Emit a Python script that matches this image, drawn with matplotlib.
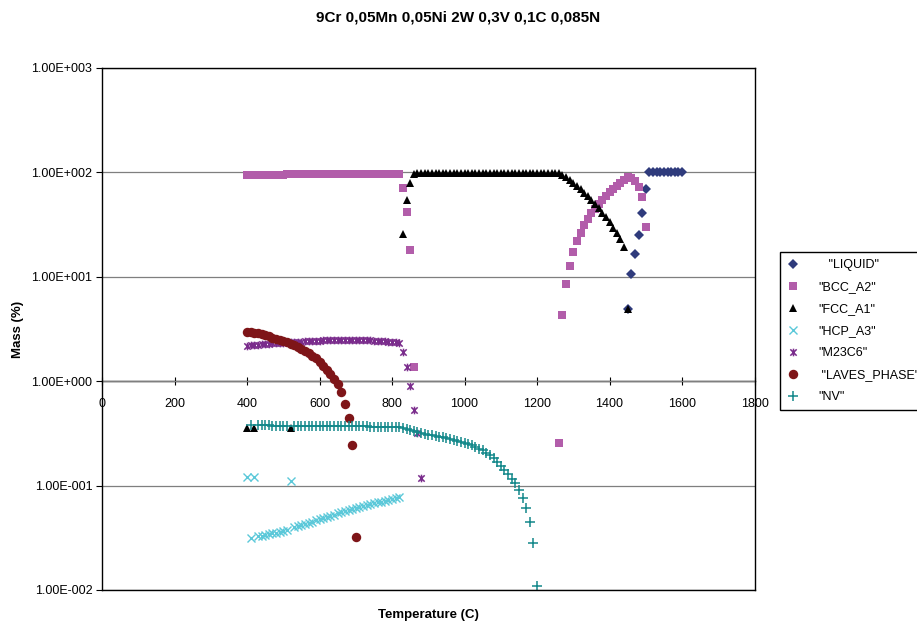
import math
import matplotlib
matplotlib.use("Agg")
import matplotlib.pyplot as plt
from matplotlib.path import Path
from matplotlib.ticker import FixedLocator, FuncFormatter, NullLocator

plt.rcParams['font.family'] = ['Liberation Sans', 'DejaVu Sans']

# ---------------- data ----------------
liquid_T = [1450, 1460, 1470, 1480, 1490, 1500, 1510, 1520, 1530, 1540, 1550,
            1560, 1570, 1580, 1590, 1600]
liquid_V = [4.9, 10.6, 16.5, 25.3, 40.8, 69.3, 100, 100, 100, 100, 100,
            100, 100, 100, 100, 100]

bcc_T = [400, 410, 420, 430, 440, 450, 460, 470, 480, 490, 500, 510, 520, 530,
         540, 550, 560, 570, 580, 590, 600, 610, 620, 630, 640, 650, 660, 670,
         680, 690, 700, 710, 720, 730, 740, 750, 760, 770, 780, 790, 800, 810,
         820, 830, 840, 850, 860,
         1260, 1270, 1280, 1290, 1300, 1310, 1320, 1330, 1340, 1350, 1360, 1370,
         1380, 1390, 1400, 1410, 1420, 1430, 1440, 1450, 1460, 1470, 1480, 1490,
         1500]
bcc_V = [94.4, 94.5, 94.6, 94.7, 94.8, 94.9, 95.0, 95.1, 95.2, 95.3, 95.4, 95.5,
         95.6, 95.7, 95.8, 95.9, 96.0, 96.1, 96.2, 96.3, 96.4, 96.5, 96.6, 96.7,
         96.8, 96.9, 96.9, 97.0, 97.0, 97.1, 97.1, 97.1, 97.1, 97.2, 97.2, 97.2,
         97.2, 97.2, 97.2, 97.2, 97.3, 97.3, 97.3,
         71.0, 42.0, 18.0, 1.38,
         0.254, 4.3, 8.5, 12.8, 17.3, 21.9, 26.5, 31.1, 36.0, 40.6, 44.9, 49.4,
         54.4, 59.5, 64.4, 69.8, 74.6, 78.7, 84.6, 91.0, 88.0, 82.0, 73.0, 58.0,
         30.0]

fcc_T = [400, 420, 520, 830, 840, 850,
         860, 870, 880, 890, 900, 910, 920, 930, 940, 950, 960, 970, 980, 990,
         1000, 1010, 1020, 1030, 1040, 1050, 1060, 1070, 1080, 1090, 1100, 1110,
         1120, 1130, 1140, 1150, 1160, 1170, 1180, 1190, 1200, 1210, 1220, 1230,
         1240, 1250, 1260,
         1270, 1280, 1290, 1300, 1310, 1320, 1330, 1340, 1350, 1360, 1370, 1380,
         1390, 1400, 1410, 1420, 1430, 1440, 1450]
fcc_V = [0.355, 0.355, 0.355, 25.7, 54.5, 79.6,
         97.5, 98.3, 98.8, 99.0, 99.1, 99.1, 99.2, 99.2, 99.2, 99.3, 99.3, 99.3,
         99.3, 99.3, 99.4, 99.4, 99.4, 99.4, 99.4, 99.5, 99.5, 99.5, 99.5, 99.5,
         99.5, 99.5, 99.5, 99.5, 99.5, 99.5, 99.5, 99.5, 99.5, 99.5, 99.5, 99.5,
         99.5, 99.5, 99.4, 99.3, 99.0,
         94.4, 89.7, 84.6, 79.6, 74.1, 68.8, 64.0, 59.5, 54.4, 49.8, 45.3, 41.1,
         37.2, 33.3, 29.5, 26.1, 23.0, 19.4, 4.9]

hcp_T = [400, 420, 520,
         410, 430, 440, 450, 460, 470, 480, 490, 500, 510, 530, 540, 550, 560,
         570, 580, 590, 600, 610, 620, 630, 640, 650, 660, 670, 680, 690, 700,
         710, 720, 730, 740, 750, 760, 770, 780, 790, 800, 810, 820]
hcp_V = [0.122, 0.120, 0.111,
         0.0315, 0.0328, 0.0332, 0.0336, 0.0342, 0.0349, 0.0355, 0.0361, 0.0367,
         0.0375, 0.0400, 0.0410, 0.0422, 0.0432, 0.0442, 0.0452, 0.0465, 0.0478,
         0.0490, 0.0500, 0.0511, 0.0528, 0.0545, 0.0563, 0.0575, 0.0587, 0.0600,
         0.0612, 0.0625, 0.0637, 0.0650, 0.0665, 0.0678, 0.0690, 0.0702, 0.0715,
         0.0728, 0.0740, 0.0755, 0.0772]

m23_T = [400, 410, 420, 430, 440, 450, 460, 470, 480, 490, 500, 510, 520, 530,
         540, 550, 560, 570, 580, 590, 600, 610, 620, 630, 640, 650, 660, 670,
         680, 690, 700, 710, 720, 730, 740, 750, 760, 770, 780, 790, 800, 810,
         820, 830, 840, 850, 860, 870, 880]
m23_V = [2.19, 2.20, 2.22, 2.24, 2.26, 2.27, 2.29, 2.30, 2.32, 2.33, 2.34, 2.35,
         2.37, 2.38, 2.39, 2.40, 2.41, 2.42, 2.43, 2.44, 2.45, 2.46, 2.47, 2.48,
         2.48, 2.49, 2.49, 2.49, 2.49, 2.49, 2.49, 2.48, 2.48, 2.47, 2.46, 2.45,
         2.44, 2.43, 2.41, 2.40, 2.38, 2.36, 2.34, 1.92, 1.38, 0.906, 0.53,
         0.321, 0.117]

laves_T = [400, 410, 420, 430, 440, 450, 460, 470, 480, 490, 500, 510, 520, 530,
           540, 550, 560, 570, 580, 590, 600, 610, 620, 630, 640, 650, 660, 670,
           680, 690, 700]
laves_V = [2.98, 2.95, 2.91, 2.87, 2.81, 2.75, 2.69, 2.62, 2.56, 2.49, 2.42,
           2.35, 2.28, 2.20, 2.13, 2.04, 1.95, 1.86, 1.76, 1.65, 1.52, 1.40,
           1.28, 1.16, 1.05, 0.93, 0.78, 0.60, 0.44, 0.245, 0.032]

nv_T = [410, 430, 440, 450, 460, 470, 480, 490, 500, 510, 530, 540, 550, 560,
        570, 580, 590, 600, 610, 620, 630, 640, 650, 660, 670, 680, 690, 700,
        710, 720, 730, 740, 750, 760, 770, 780, 790, 800, 810, 820, 830, 840,
        850, 860, 870, 880, 890, 900, 910, 920, 930, 940, 950, 960, 970, 980,
        990, 1000, 1010, 1020, 1030, 1040, 1050, 1060, 1070, 1080, 1090, 1100,
        1110, 1120, 1130, 1140, 1150, 1160, 1170, 1180, 1190, 1200]
nv_V = [0.378, 0.378, 0.377, 0.377, 0.377, 0.376, 0.376, 0.376, 0.375, 0.375,
        0.375, 0.374, 0.374, 0.374, 0.373, 0.373, 0.373, 0.372, 0.372, 0.372,
        0.371, 0.371, 0.371, 0.370, 0.370, 0.370, 0.370, 0.369, 0.369, 0.369,
        0.369, 0.368, 0.368, 0.368, 0.367, 0.367, 0.367, 0.366, 0.366, 0.365,
        0.360, 0.352, 0.342, 0.332, 0.325, 0.318, 0.312, 0.307, 0.303, 0.298,
        0.294, 0.289, 0.284, 0.279, 0.274, 0.268, 0.262, 0.256, 0.250, 0.243,
        0.235, 0.226, 0.217, 0.207, 0.196, 0.182, 0.168, 0.155, 0.142, 0.128,
        0.116, 0.105, 0.0907, 0.0755, 0.0605, 0.0445, 0.028, 0.0109]

x_ticks = [0, 200, 400, 600, 800, 1000, 1200, 1400, 1600, 1800]
y_ticks = [0.01, 0.1, 1, 10, 100, 1000]
title = "9Cr 0,05Mn 0,05Ni 2W 0,3V 0,1C 0,085N"

# --------------- figure ---------------
fig = plt.figure(figsize=(9.17, 6.24), dpi=100)
ax = fig.add_axes([102 / 917, 1 - 590 / 624, (754.5 - 102) / 917, (590 - 68) / 624])

star = Path([(-1, -1), (1, 1), (-1, 1), (1, -1), (0, -1.2), (0, 1.2)],
            [Path.MOVETO, Path.LINETO, Path.MOVETO, Path.LINETO, Path.MOVETO, Path.LINETO])

series = [
    (liquid_T, liquid_V, '   "LIQUID"', dict(marker='D', color='#2F3B7C', ms=5.0, mew=0)),
    (bcc_T, bcc_V, '"BCC_A2"', dict(marker='s', color='#B25DAA', ms=6.0, mew=0)),
    (fcc_T, fcc_V, '"FCC_A1"', dict(marker='^', color='#000000', ms=6, mew=0)),
    (hcp_T, hcp_V, '"HCP_A3"', dict(marker='x', color='#5BC8D9', ms=5.5, mew=1.0)),
    (m23_T, m23_V, '"M23C6"', dict(marker=star, color='#7A2C8C', ms=5.5, mew=1.1)),
    (laves_T, laves_V, ' "LAVES_PHASE"    ', dict(marker='o', color='#7E1518', ms=6.8, mew=0)),
    (nv_T, nv_V, '"NV"', dict(marker='+', color='#13888A', ms=6.5, mew=1.1)),
]
for T, V, lab, st in series:
    ax.plot(T, V, linestyle='none', label=lab, markeredgecolor=st['color'],
            markerfacecolor=st['color'], marker=st['marker'], markersize=st['ms'],
            markeredgewidth=st['mew'], clip_on=False)

ax.set_yscale('log')
ax.set_xlim(0, 1800)
ax.set_ylim(0.01, 1000)

ax.yaxis.set_major_locator(FixedLocator(y_ticks))
ax.yaxis.set_minor_locator(NullLocator())
ax.yaxis.set_major_formatter(FuncFormatter(lambda v, p: "%.2fE%+04d" % (1.0, round(math.log10(v)))))
ax.tick_params(axis='y', direction='out', length=4, width=0.8, labelsize=9, pad=3)
ax.yaxis.grid(True, color='#7f7f7f', linewidth=0.9)
ax.set_axisbelow(True)

ax.set_xticks([])
for s in ax.spines.values():
    s.set_linewidth(1.0)
    s.set_color('black')

# x axis crossing at y = 1
sec = ax.secondary_xaxis(0.4)
sec.set_xticks(x_ticks)
sec.set_xticklabels([str(t) for t in x_ticks])
sec.tick_params(axis='x', direction='inout', length=6, width=0.8, labelsize=9, pad=9)
sec.spines['bottom'].set_linewidth(1.0)

fig.text(0.5, 1 - 18 / 624, title, ha='center', va='center', fontsize=11, fontweight='bold')
fig.text(428 / 917, 1 - 615 / 624, "Temperature (C)", ha='center', va='center', fontsize=9.5, fontweight='bold')
fig.text(18 / 917, 1 - 329 / 624, "Mass (%)", ha='center', va='center', rotation=90, fontsize=9.5, fontweight='bold')

leg = fig.legend(loc='upper left', bbox_to_anchor=(780 / 917, 1 - 252 / 624), frameon=True,
                 fancybox=False, edgecolor='black', framealpha=1, fontsize=9,
                 handlelength=1.0, handletextpad=1.5, labelspacing=0.8, borderpad=0.55,
                 borderaxespad=0)
leg.get_frame().set_linewidth(1.0)

fig.savefig("out.png", dpi=100)
